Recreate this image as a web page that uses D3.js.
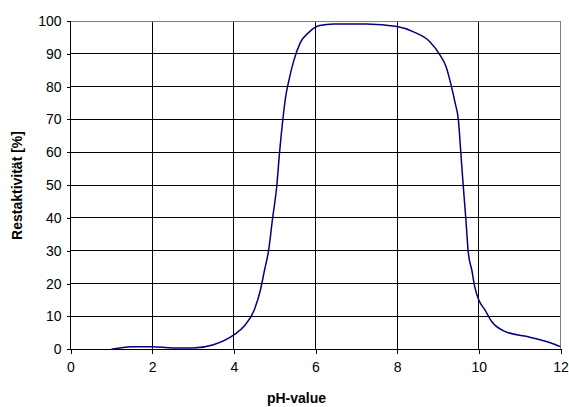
<!DOCTYPE html>
<html>
<head>
<meta charset="utf-8">
<script src="https://cdn.jsdelivr.net/npm/d3@7"></script>
<style>
html,body{margin:0;padding:0;background:#fff;}
svg{display:block;font-family:"Liberation Sans",Arial,sans-serif;}
</style>
</head>
<body>
<svg id="chart" width="569" height="407"></svg>
<script>
const phValues = [1, 1.5, 2, 2.5, 3, 3.5, 4, 4.25, 4.5, 4.65, 4.75, 4.85, 4.95, 5.05, 5.12, 5.2, 5.27, 5.35, 5.47, 5.62, 5.85, 6.1, 6.45, 7.25, 8, 8.4, 8.8, 9.05, 9.2, 9.33, 9.42, 9.5, 9.56, 9.62, 9.68, 9.74, 9.83, 9.9, 10, 10.15, 10.32, 10.65, 11.25, 11.75, 12];
const activity = [0, 0.8, 0.8, 0.4, 0.4, 1.4, 4.4, 7, 12, 18, 24, 30, 40, 49.5, 60, 70, 77, 82, 88, 93.2, 96.7, 98.6, 99.1, 99.1, 98.3, 96.7, 93.7, 89.6, 86, 80, 75, 69.8, 59.7, 49.5, 40, 29.7, 24, 19, 15, 12, 8.4, 5.4, 3.7, 2, 0.8];
const xTicks = [0, 2, 4, 6, 8, 10, 12];
const yTicks = [0, 10, 20, 30, 40, 50, 60, 70, 80, 90, 100];
const xTitle = "pH-value";
const yTitle = "Restaktivität [%]";

(function(){
const svg = d3.select("#chart");
const pL = 70.5, pR = 560.5, pT = 21, pB = 349.3;
const x = d3.scaleLinear().domain([0, 12]).range([pL, pR]);
const y = d3.scaleLinear().domain([0, 100]).range([pB, pT]);

// grid
const grid = svg.append("g").attr("shape-rendering", "crispEdges");
grid.selectAll("line.h").data(yTicks.filter(d => d > 0 && d < 100)).enter().append("line")
  .attr("x1", pL).attr("x2", pR).attr("y1", d => y(d)).attr("y2", d => y(d))
  .attr("stroke", "#000").attr("stroke-width", 1);
grid.selectAll("line.v").data(xTicks.filter(d => d > 0 && d < 12)).enter().append("line")
  .attr("y1", pT).attr("y2", pB).attr("x1", d => x(d)).attr("x2", d => x(d))
  .attr("stroke", "#000").attr("stroke-width", 1);
// top and right border
grid.append("line").attr("x1", pL).attr("x2", pR).attr("y1", pT).attr("y2", pT).attr("stroke", "#808080");
grid.append("line").attr("x1", pR).attr("x2", pR).attr("y1", pT).attr("y2", pB).attr("stroke", "#808080");

// axes
const yAxis = d3.axisLeft(y).tickValues(yTicks).tickSize(4).tickPadding(5).tickFormat(d3.format("d"));
const xAxis = d3.axisBottom(x).tickValues(xTicks).tickSize(5).tickPadding(8).tickFormat(d3.format("d"));
const gy = svg.append("g").attr("transform", `translate(${pL},0)`).call(yAxis);
const gx = svg.append("g").attr("transform", `translate(0,${pB})`).call(xAxis);
[gx, gy].forEach(g => {
  g.attr("shape-rendering", "crispEdges");
  g.select(".domain").remove();
  g.selectAll(".tick line").attr("stroke", "#000");
  g.selectAll("text").attr("font-size", "14px").attr("fill", "#000").attr("font-family", "'Liberation Sans', Arial, sans-serif");
});
svg.append("line").attr("x1", pL).attr("x2", pL).attr("y1", pT).attr("y2", pB).attr("stroke", "#000").attr("shape-rendering", "crispEdges");
svg.append("line").attr("x1", pL).attr("x2", pR).attr("y1", pB).attr("y2", pB).attr("stroke", "#000").attr("shape-rendering", "crispEdges");

// curve
const data = phValues.map((p, i) => [p, activity[i]]);
const line = d3.line().x(d => x(d[0])).y(d => y(d[1])).curve(d3.curveMonotoneX);
svg.append("path").datum(data).attr("d", line)
  .attr("fill", "none").attr("stroke", "#000080").attr("stroke-width", 1.5);

// titles
svg.append("text").attr("x", 296.5).attr("y", 403).attr("text-anchor", "middle")
  .attr("font-size", "14px").attr("font-weight", "bold").text(xTitle);
svg.append("text").attr("transform", "translate(21.5,185.5) rotate(-90)").attr("text-anchor", "middle")
  .attr("font-size", "14px").attr("font-weight", "bold").text(yTitle);
})();
</script>
</body>
</html>
